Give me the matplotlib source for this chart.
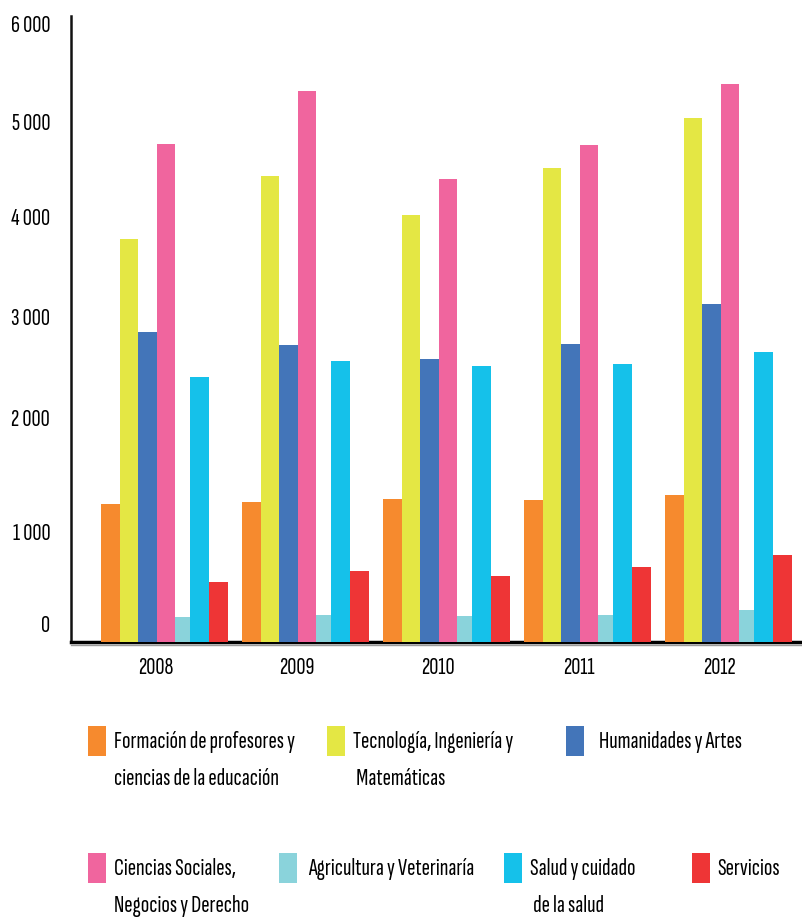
import numpy as np
import matplotlib
matplotlib.use('Agg')
import matplotlib.pyplot as plt
from matplotlib.patches import Rectangle
from matplotlib.transforms import ScaledTranslation

plt.rcParams['font.family'] = ['Sofia Sans Extra Condensed', 'DejaVu Sans']

# Data
years = ['2008', '2009', '2010', '2011', '2012']
series = ['Formación de profesores y\nciencias de la educación',
          'Tecnología, Ingeniería y\n Matemáticas',
          'Humanidades y Artes',
          'Ciencias Sociales,\nNegocios y Derecho',
          'Agricultura y Veterinaría',
          'Salud y cuidado\n de la salud',
          'Servicios']
formacion = [1370, 1390, 1420, 1410, 1460]
tecnologia = [4000, 4625, 4240, 4705, 5200]
humanidades = [3075, 2950, 2810, 2960, 3355]
ciencias_sociales = [4945, 5470, 4595, 4935, 5540]
agricultura = [250, 270, 260, 270, 320]
salud = [2630, 2790, 2740, 2760, 2880]
servicios = [595, 705, 655, 745, 865]
values = [formacion, tecnologia, humanidades, ciencias_sociales, agricultura, salud, servicios]
colors = ['#F68A2E', '#E4E744', '#4375B9', '#F0659E', '#8AD3DB', '#15C1EA', '#EE3536']
yticks = [0, 1000, 2000, 3000, 4000, 5000, 6000]
ytick_labels = ['0', '1 000', '2 000', '3 000', '4 000', '5 000', '6 000']

W, H = 803, 920
fig = plt.figure(figsize=(W / 100, H / 100), dpi=100)
ax = fig.add_axes([71 / W, (H - 643) / H, 732 / W, (643 - 17) / H])

# bar widths in group units (agriculture bar is slimmer)
widths = [0.132, 0.132, 0.130, 0.134, 0.106, 0.132, 0.134]
x = np.arange(len(years))
start = 0.0
for vals, w, c in zip(values, widths, colors):
    ax.bar(x + start, vals, width=w, align='edge', color=c, zorder=3, linewidth=0)
    start += w

ax.set_xlim(-30 / 141, 702 / 141)
ax.set_ylim(0, 626 / 0.10075)

ax.set_yticks(yticks)
ax.set_yticklabels(ytick_labels, fontsize=18)
ax.set_xticks(x + 0.39)
ax.set_xticklabels(years, fontsize=18)
ax.tick_params(axis='y', length=0, pad=15)
ax.tick_params(axis='x', length=0, pad=10)
# the labels sit a bit above their values in the original
label_shift_px = [19, 11, 24, 24, 23, 18, 15]
for lab, dy in zip(ax.get_yticklabels(), label_shift_px):
    lab.set_transform(lab.get_transform() + ScaledTranslation(0, dy / 100, fig.dpi_scale_trans))

for s in ['top', 'right']:
    ax.spines[s].set_visible(False)
ax.spines['left'].set_linewidth(1.8)
ax.spines['bottom'].set_linewidth(2.5)
ax.spines['left'].set_color('#111111')
ax.spines['bottom'].set_color('#000000')

# thin grey rule just under the x axis
ax.plot([0, 1], [0, 0], color='#9a9a9a', lw=1, clip_on=False,
        transform=ax.transAxes + ScaledTranslation(0, -0.025, fig.dpi_scale_trans))

# Legend, laid out by hand in two rows
def fx(px):
    return px / W

def fy(py):
    return 1 - py / H

legend_pos = [(88, 727, 114), (327, 727, 353), (566, 727, 599),
              (88, 854, 114), (279, 854, 308), (504, 854, 530), (692, 854, 717)]
for name, c, (px, py, tx) in zip(series, colors, legend_pos):
    fig.patches.append(Rectangle((fx(px), fy(py + 30)), 18 / W, 30 / H,
                                 transform=fig.transFigure, color=c, linewidth=0))
    for i, line in enumerate(name.split('\n')):
        fig.text(fx(tx), fy(py + 15 + i * 37), line, fontsize=18, va='center', ha='left')

plt.savefig('out.png', dpi=100)
